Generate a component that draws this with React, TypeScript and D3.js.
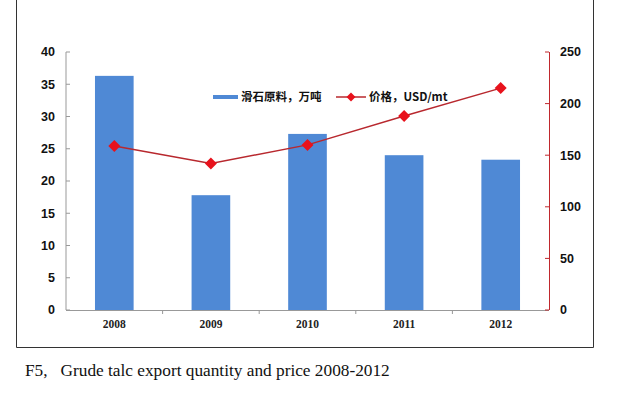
import React from "react";
import * as d3 from "d3";

const years = ["2008", "2009", "2010", "2011", "2012"];
const quantity = [36.3, 17.8, 27.3, 24.0, 23.3];
const price = [159, 142, 160, 188, 215];
const leftTicks = [0, 5, 10, 15, 20, 25, 30, 35, 40];
const rightTicks = [0, 50, 100, 150, 200, 250];
const legendLabels = ["滑石原料，万吨", "价格，USD/mt"];
const caption = "F5,\u00a0\u00a0\u00a0Grude talc export quantity and price 2008-2012";

export default function App() {
  const W = 631, H = 393;
  const x0 = 66, x1 = 549, yTop = 52, yBot = 310;
  const x = d3.scaleBand<string>().domain(years).range([x0, x1]);
  const yL = d3.scaleLinear().domain([0, 40]).range([yBot, yTop]);
  const yR = d3.scaleLinear().domain([0, 250]).range([yBot, yTop]);
  const bw = x.bandwidth() * 0.4;
  const line = d3.line<number>()
    .x((_, i) => (x(years[i]) as number) + x.bandwidth() / 2)
    .y((d) => yR(d));
  const tickFont = "Arial, 'Liberation Sans', sans-serif";
  const cjk = "'Noto Sans CJK SC', sans-serif";
  const diamond = (cx: number, cy: number, r: number) =>
    `M${cx},${cy - r}L${cx + r},${cy}L${cx},${cy + r}L${cx - r},${cy}Z`;
  return (
    <svg width={W} height={H} style={{ position: "absolute", left: 0, top: 0, background: "#fff" }}>
      {/* frame */}
      <path d={`M16.5,0V347.5H593.5V0`} fill="none" stroke="#333" strokeWidth={1} />
      {/* bars */}
      {quantity.map((v, i) => (
        <rect key={i} x={(x(years[i]) as number) + (x.bandwidth() - bw) / 2} y={yL(v)}
          width={bw} height={yBot - yL(v)} fill="#4F89D5" />
      ))}
      {/* left axis */}
      <line x1={x0} x2={x0} y1={yTop} y2={yBot} stroke="#999" />
      {leftTicks.map((t) => (
        <g key={t}>
          <line x1={x0} x2={x0 + 4} y1={yL(t)} y2={yL(t)} stroke="#999" />
          <text x={55} y={yL(t)} dy="0.35em" textAnchor="end" fontFamily={tickFont}
            fontWeight="bold" fontSize={12.5} fill="#111">{t}</text>
        </g>
      ))}
      {/* x axis */}
      <line x1={x0} x2={x1} y1={yBot + 0.5} y2={yBot + 0.5} stroke="#999" />
      {years.map((yv, i) => (
        <g key={yv}>
          {i > 0 && <line x1={x(yv)} x2={x(yv)} y1={yBot} y2={yBot + 4} stroke="#999" />}
          <text x={(x(yv) as number) + x.bandwidth() / 2} y={328} textAnchor="middle"
            fontFamily="'Liberation Serif', serif" fontWeight="bold" fontSize={11.5} fill="#222">{yv}</text>
        </g>
      ))}
      {/* right axis */}
      <line x1={x1 + 0.5} x2={x1 + 0.5} y1={yTop} y2={yBot} stroke="#C0282D" />
      {rightTicks.map((t) => (
        <g key={t}>
          <line x1={x1 - 4} x2={x1} y1={yR(t)} y2={yR(t)} stroke="#C0282D" />
          <text x={560} y={yR(t)} dy="0.35em" textAnchor="start" fontFamily={tickFont}
            fontWeight="bold" fontSize={12.5} fill="#111">{t}</text>
        </g>
      ))}
      {/* price line */}
      <path d={line(price) || ""} fill="none" stroke="#B8282E" strokeWidth={1.5} />
      {price.map((v, i) => (
        <path key={i} d={diamond((x(years[i]) as number) + x.bandwidth() / 2, yR(v), 6)} fill="#E8121C" />
      ))}
      {/* legend */}
      <line x1={213} x2={238} y1={97} y2={97} stroke="#4F89D5" strokeWidth={4} />
      <text x={241} y={97} dy="0.35em" fontFamily={cjk} fontWeight="bold" fontSize={11.5} fill="#111">{legendLabels[0]}</text>
      <line x1={336} x2={366} y1={97} y2={97} stroke="#B8282E" strokeWidth={1.5} />
      <path d={diamond(351, 97, 4.5)} fill="#E8121C" />
      <text x={369} y={97} dy="0.35em" fontFamily={cjk} fontWeight="bold" fontSize={11.5} fill="#111">{legendLabels[1]}</text>
      {/* caption */}
      <text x={25} y={376} fontFamily="'Liberation Serif', serif" fontSize={17.3} fill="#111">{caption}</text>
    </svg>
  );
}
